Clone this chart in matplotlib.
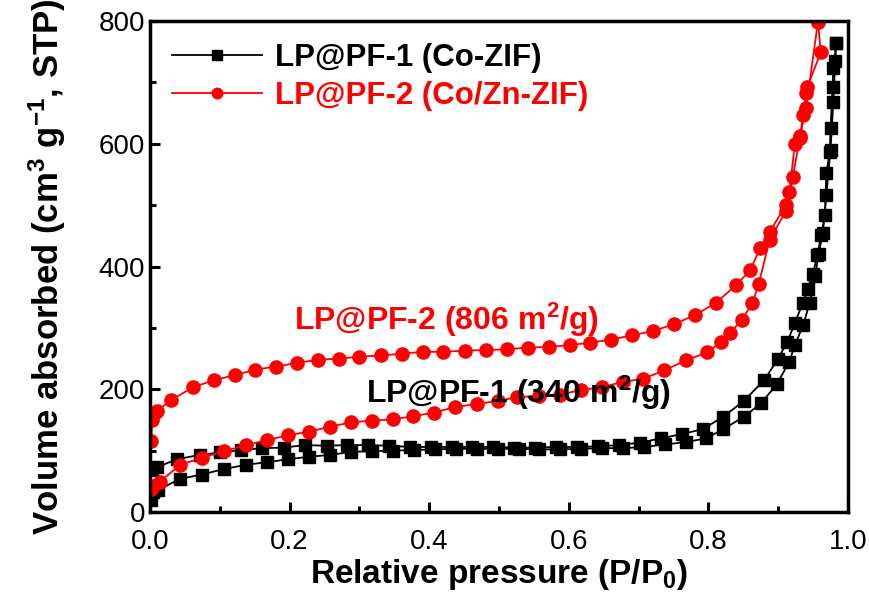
import matplotlib
matplotlib.use("Agg")
import matplotlib.pyplot as plt
from matplotlib.ticker import MultipleLocator

plt.rcParams["font.family"] = ["Liberation Sans", "DejaVu Sans"]
plt.rcParams["mathtext.fontset"] = "custom"
plt.rcParams["mathtext.rm"] = "Liberation Sans"
plt.rcParams["mathtext.bf"] = "Liberation Sans:bold"
plt.rcParams["mathtext.default"] = "bf"

# LP@PF-1 (Co-ZIF), adsorption / desorption
pf1_ads_x = [0.002, 0.005, 0.012, 0.043, 0.074, 0.106, 0.138, 0.167, 0.198, 0.228,
             0.258, 0.288, 0.318, 0.348, 0.378, 0.408, 0.438, 0.468, 0.498, 0.528,
             0.558, 0.588, 0.618, 0.648, 0.678, 0.708, 0.738, 0.768, 0.797, 0.821,
             0.851, 0.876, 0.898, 0.916, 0.924, 0.936, 0.945, 0.953, 0.958, 0.964,
             0.969, 0.975, 0.979, 0.983]
pf1_ads_y = [20, 33, 36, 54, 61, 70, 77, 81, 86, 90,
             93, 98, 99, 100, 101, 102, 103, 103, 103, 103,
             102, 102, 103, 104, 104, 106, 110, 114, 120, 135,
             155, 178, 208, 245, 272, 305, 340, 385, 420, 455,
             516, 590, 668, 765]
pf1_des_x = [0.983, 0.981, 0.979, 0.978, 0.975, 0.974, 0.969, 0.967, 0.962, 0.956,
             0.950, 0.943, 0.935, 0.924, 0.913, 0.900, 0.880, 0.851, 0.821, 0.792,
             0.762, 0.732, 0.702, 0.672, 0.642, 0.612, 0.582, 0.552, 0.522, 0.492,
             0.462, 0.432, 0.403, 0.372, 0.342, 0.312, 0.282, 0.253, 0.222, 0.192,
             0.161, 0.131, 0.101, 0.071, 0.039, 0.010, 0.003]
pf1_des_y = [765, 735, 723, 693, 625, 587, 552, 484, 451, 419,
             388, 364, 340, 308, 277, 250, 215, 181, 155, 135,
             127, 120, 113, 109, 107, 106, 106, 105, 105, 106,
             106, 106, 106, 106, 108, 109, 109, 108, 109, 105,
             104, 101, 97, 93, 86, 73, 68]

# LP@PF-2 (Co/Zn-ZIF), adsorption / desorption
pf2_ads_x = [0.002, 0.005, 0.014, 0.043, 0.074, 0.106, 0.138, 0.167, 0.198, 0.228,
             0.258, 0.288, 0.318, 0.348, 0.377, 0.407, 0.437, 0.468, 0.498, 0.526,
             0.557, 0.587, 0.618, 0.647, 0.677, 0.707, 0.737, 0.768, 0.798, 0.818,
             0.831, 0.848, 0.863, 0.872, 0.888, 0.911, 0.921, 0.931, 0.940, 0.957]
pf2_ads_y = [38, 42, 49, 77, 88, 99, 109, 117, 125, 131,
             139, 146, 149, 151, 156, 162, 171, 176, 181, 187,
             189, 191, 199, 203, 212, 217, 231, 247, 260, 277,
             292, 313, 340, 371, 444, 490, 546, 610, 659, 799]
pf2_des_x = [0.957, 0.961, 0.942, 0.940, 0.936, 0.931, 0.924, 0.916, 0.911, 0.888,
             0.874, 0.860, 0.840, 0.811, 0.781, 0.751, 0.721, 0.691, 0.661, 0.631,
             0.602, 0.571, 0.541, 0.511, 0.482, 0.451, 0.420, 0.391, 0.361, 0.331,
             0.300, 0.271, 0.241, 0.211, 0.181, 0.151, 0.122, 0.092, 0.061, 0.030,
             0.010, 0.006, 0.003, 0.002]
pf2_des_y = [799, 749, 693, 682, 647, 612, 600, 522, 500, 457,
             430, 394, 370, 341, 321, 306, 295, 288, 281, 276,
             272, 269, 268, 265, 264, 263, 261, 261, 258, 255,
             253, 250, 248, 243, 237, 232, 223, 215, 203, 182,
             165, 160, 150, 115]

fig = plt.figure(figsize=(8.69, 6.01), dpi=100)
ax = fig.add_axes([0.1726, 0.1481, 0.8032, 0.8169])

blk = dict(color="black", marker="s", markersize=8.5, linewidth=1.3)
red = dict(color="red", marker="o", markersize=9.5, linewidth=1.3)

l1, = ax.plot(pf1_ads_x, pf1_ads_y, label="LP@PF-1 (Co-ZIF)", **blk)
ax.plot(pf1_des_x, pf1_des_y, **blk)
l2, = ax.plot(pf2_ads_x, pf2_ads_y, label="LP@PF-2 (Co/Zn-ZIF)", **red)
ax.plot(pf2_des_x, pf2_des_y, **red)

ax.set_xlim(0, 1.0)
ax.set_ylim(0, 800)
ax.xaxis.set_major_locator(MultipleLocator(0.2))
ax.xaxis.set_minor_locator(MultipleLocator(0.1))
ax.yaxis.set_major_locator(MultipleLocator(200))
ax.yaxis.set_minor_locator(MultipleLocator(100))
ax.xaxis.set_major_formatter(matplotlib.ticker.FormatStrFormatter("%.1f"))
ax.tick_params(which="both", direction="in", width=2.2, labelsize=20,
               top=False, right=False)
ax.tick_params(which="major", length=7)
ax.tick_params(which="minor", length=4)
ax.tick_params(axis="x", pad=12)
for s in ax.spines.values():
    s.set_linewidth(2.5)

ax.set_xlabel("Relative pressure (P/P$_\\mathbf{0}$)", fontsize=24,
              fontweight="bold", labelpad=2)
ax.set_ylabel("Volume absorbed (cm$^\\mathbf{3}$ g$^\\mathbf{-1}$, STP)",
              fontsize=25, fontweight="bold", labelpad=22)

leg = ax.legend(handles=[l1, l2], loc="upper left", frameon=False,
                prop={"weight": "bold", "size": 22.5}, markerscale=0.8,
                handlelength=2.9, handletextpad=0.4, borderaxespad=0.3,
                labelspacing=0.25, bbox_to_anchor=(0.0, 1.0))
for txt, c in zip(leg.get_texts(), ["black", "red"]):
    txt.set_color(c)

ax.text(0.207, 282, "LP@PF-2 (806 m$^\\mathbf{2}$/g)", color="red",
        fontsize=23, fontweight="bold", va="bottom")
ax.text(0.31, 163, "LP@PF-1 (340 m$^\\mathbf{2}$/g)", color="black",
        fontsize=23, fontweight="bold", va="bottom")

fig.savefig("out.png", dpi=100)
